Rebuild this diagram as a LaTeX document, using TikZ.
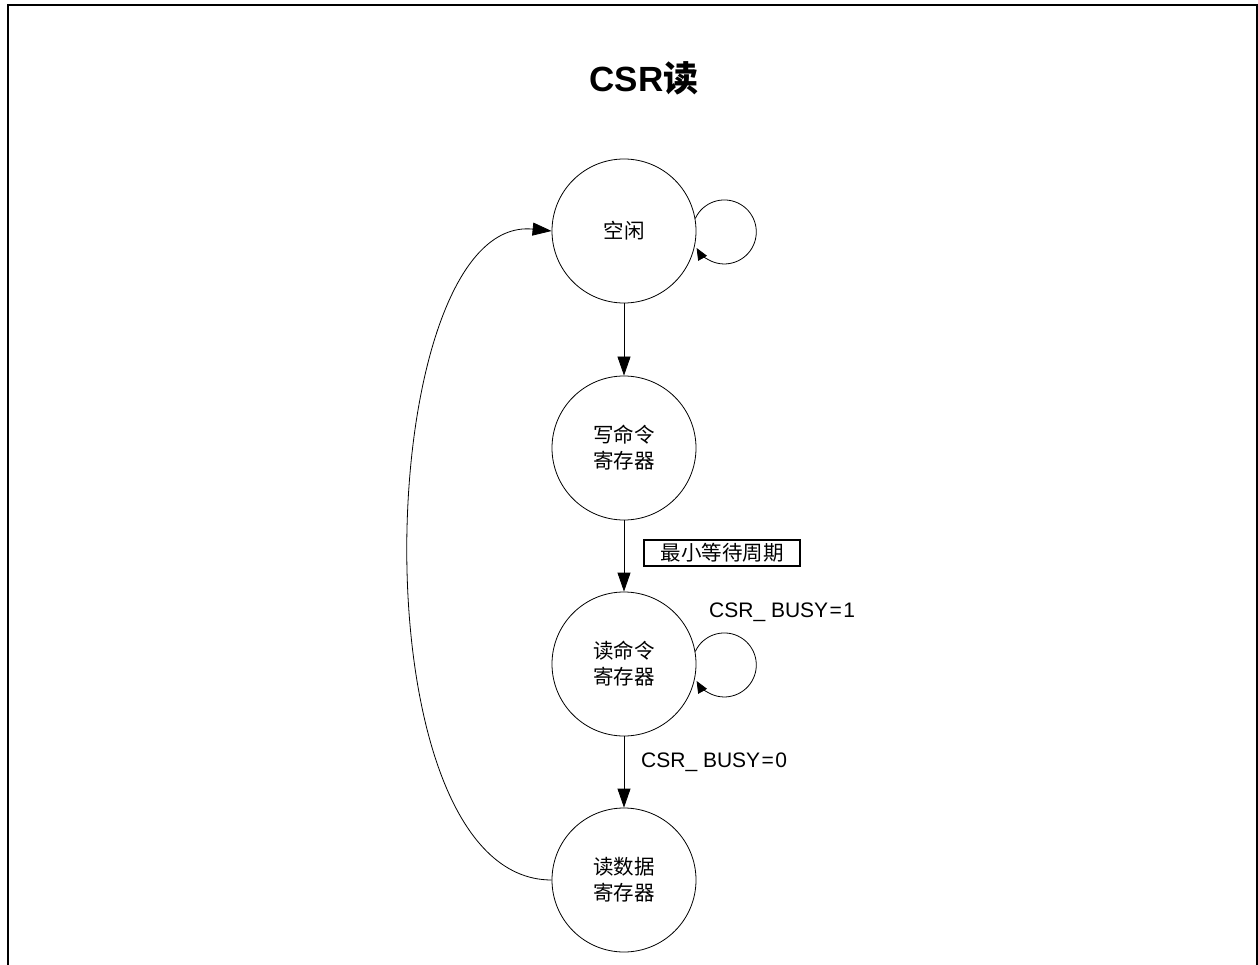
\documentclass[tikz,border=0pt]{standalone}
\usepackage{fontspec}
\setmainfont{Liberation Sans}
\newfontfamily\cjk{Noto Sans CJK SC}
\usetikzlibrary{positioning,arrows.meta,calc}
\definecolor{cLine}{RGB}{0,0,0}

\begin{document}
\begin{tikzpicture}[x=1pt,y=1pt,
   fsm/.style={draw=cLine,circle,line width=0.8pt,minimum size=144pt,inner sep=0pt,
     align=center,font=\cjk\fontsize{20.5}{26}\selectfont},
   arr/.style={draw=cLine,line width=0.8pt,-{Triangle[length=19pt,width=13pt]}},
   looparr/.style={draw=cLine,line width=0.8pt,-{Triangle[length=12pt,width=10pt]}},
   lbl/.style={inner sep=0pt,font=\fontsize{21}{24}\selectfont}]
 \useasboundingbox (0,0) rectangle (1258,-965);
 % outer frame, open at the bottom
 \draw[line width=2pt] (7.5,-965) -- (7.5,-5.5) -- (1256.5,-5.5) -- (1256.5,-965);
 \node[font=\fontsize{35}{40}\selectfont\bfseries] (title) at (644,-78) {CSR{\cjk 读}};
 % states, top to bottom
 \foreach \n/\y/\txt in {idle/231/{空闲},wcmd/448/{写命令\\寄存器},
                         rcmd/664/{读命令\\寄存器},rdata/880/{读数据\\寄存器}}
   \node[fsm] (\n) at (624,-\y) {\txt};
 % transitions
 \draw[arr] (idle) -- (wcmd);
 \draw[arr] (wcmd) -- (rcmd);
 \draw[arr] (rcmd) -- (rdata);
 \draw[arr] (rdata.west) .. controls +(-200,0) and +(-180,18) .. (idle.west);
 % self loops
 \draw[looparr] (idle.10) arc[start angle=155,end angle=-150,radius=32];
 \draw[looparr] (rcmd.10) arc[start angle=155,end angle=-150,radius=32];
 % conditions
 \node[draw=cLine,line width=1.1pt,minimum width=156pt,minimum height=26pt,inner sep=0pt,
   font=\cjk\fontsize{20.5}{24}\selectfont] (wait) at (722,-553) {最小等待周期};
 \node[lbl,anchor=west] (busy1) at (709,-612) {CSR\_ BUSY\kern1.5pt=\kern1.5pt1};
 \node[lbl,anchor=west] (busy0) at (641,-762) {CSR\_ BUSY\kern1.5pt=\kern1.5pt0};
\end{tikzpicture}
\end{document}
